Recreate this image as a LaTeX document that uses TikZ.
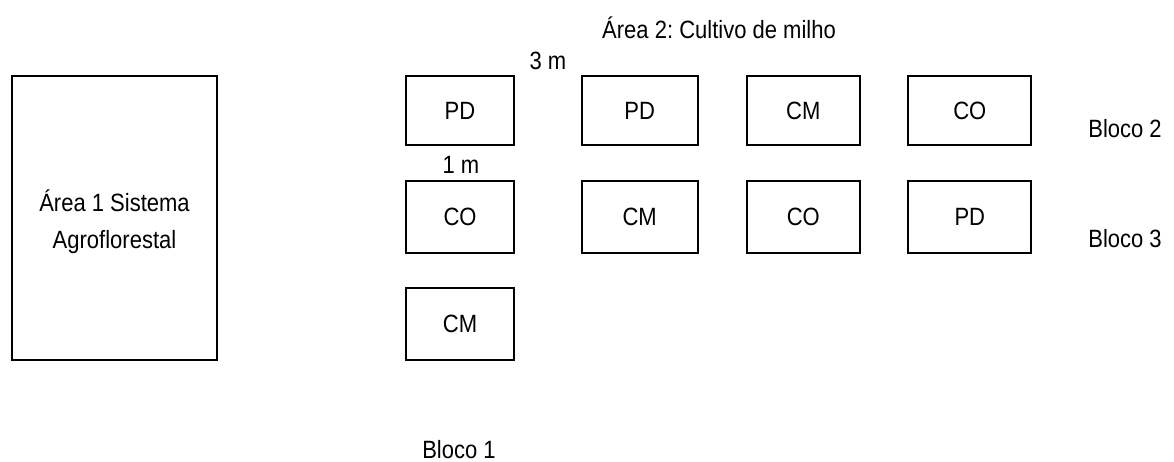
\documentclass[tikz,border=0pt]{standalone}
\usepackage{fontspec}
\setmainfont[FakeStretch=0.88]{Liberation Sans}
\frenchspacing
\newcommand{\plotfont}{\fontsize{25}{29}\selectfont}
\begin{document}
\begin{tikzpicture}[x=1pt,y=-1pt,
  plotbox/.style={draw, line width=2pt, inner sep=0pt, font=\plotfont},
  lbl/.style={inner sep=0pt, anchor=base, font=\plotfont}]
\useasboundingbox (0,0) rectangle (1174,461);

% Area 1: agroforestry system
\node[plotbox, minimum width=205pt, minimum height=284pt] (area1) at (114.5,218) {};
\node[lbl] (area1a) at (114.5,211.7) {Área 1 Sistema};
\node[lbl] (area1b) at (114.5,248) {Agroflorestal};

% Area 2: maize plots
\tikzset{
  c1/.style={minimum width=108pt},
  c2/.style={minimum width=116pt},
  c3/.style={minimum width=113pt},
  c4/.style={minimum width=123pt},
  r1/.style={minimum height=69pt},
  r2/.style={minimum height=72pt}}
\node[plotbox,c1,r1] (p11) at (460,110.5) {PD};
\node[plotbox,c2,r1] (p12) at (639.7,110.5) {PD};
\node[plotbox,c3,r1] (p13) at (803.3,110.5) {CM};
\node[plotbox,c4,r1] (p14) at (969.8,110.5) {CO};

\node[plotbox,c1,r2] (p21) at (460,217) {CO};
\node[plotbox,c2,r2] (p22) at (639.7,217) {CM};
\node[plotbox,c3,r2] (p23) at (803.3,217) {CO};
\node[plotbox,c4,r2] (p24) at (969.8,217) {PD};

\node[plotbox,c1,r2] (p31) at (460,324) {CM};

% Labels
\node[lbl] (area2) at (719,38) {Área 2: Cultivo de milho};
\node[lbl] (gap3) at (548,69) {3 m};
\node[lbl] (gap1) at (461,173) {1 m};
\node[lbl] (bloco2) at (1125,137) {Bloco 2};
\node[lbl] (bloco3) at (1125,247) {Bloco 3};
\node[lbl] (bloco1) at (459,458) {Bloco 1};
\end{tikzpicture}
\end{document}
